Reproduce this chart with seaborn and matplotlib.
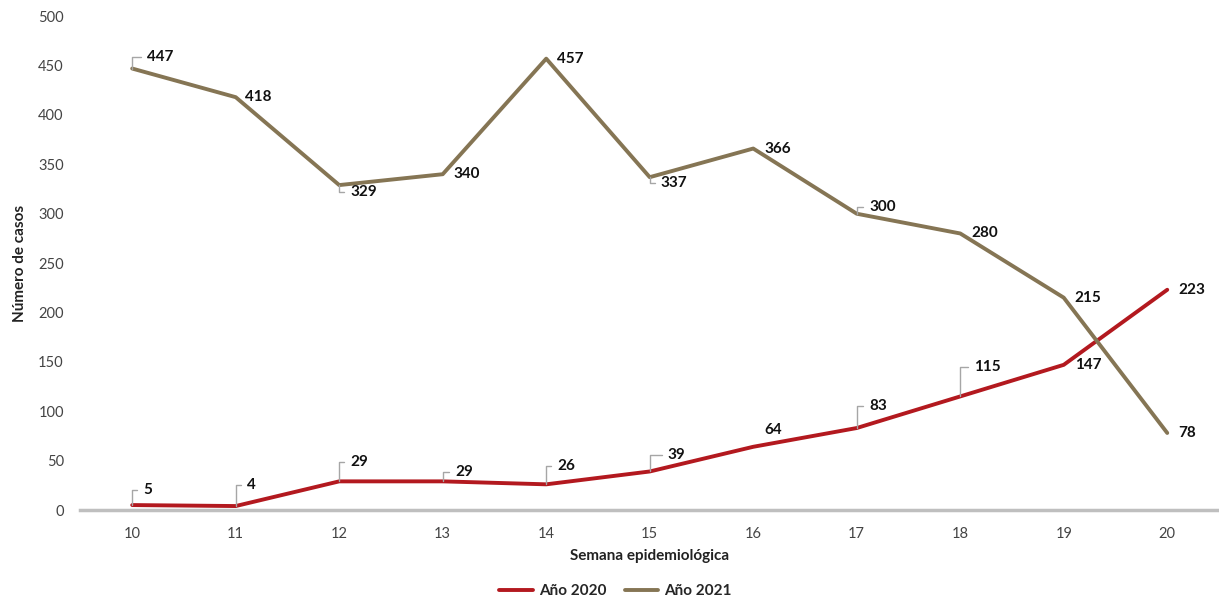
import matplotlib
matplotlib.use("Agg")
import matplotlib.pyplot as plt
import seaborn as sns
import pandas as pd

weeks = [10, 11, 12, 13, 14, 15, 16, 17, 18, 19, 20]
cases_2020 = [5, 4, 29, 29, 26, 39, 64, 83, 115, 147, 223]
cases_2021 = [447, 418, 329, 340, 457, 337, 366, 300, 280, 215, 78]
series_names = ["Año 2020", "Año 2021"]
colors = ["#B3191F", "#857554"]

# label offsets in points (dx, dy) and whether a leader line is drawn
offsets_2020 = [(8, 11), (8, 15), (8, 14), (9, 7), (8, 13), (13, 12), (8, 12), (9, 16), (10, 21), (8, 0), (8, 0)]
leaders_2020 = [True, True, True, True, True, True, False, True, True, False, False]
offsets_2021 = [(11, 8), (7, 0), (8, -5), (8, 0), (8, 0), (8, -4), (8, 0), (9, 5), (8, 0), (8, 0), (8, 0)]
leaders_2021 = [True, False, True, False, False, True, False, True, False, False, False]

sns.set_theme(style="white")
plt.rcParams["font.family"] = ["Lato", "DejaVu Sans"]

df = pd.DataFrame({
    "Semana": weeks * 2,
    "Casos": cases_2020 + cases_2021,
    "Serie": [series_names[0]] * len(weeks) + [series_names[1]] * len(weeks),
})

fig = plt.figure(figsize=(12.19, 6.0), dpi=100)
ax = fig.add_axes([0.066, 0.15, 0.934, 0.823])
sns.lineplot(data=df, x="Semana", y="Casos", hue="Serie", palette=colors,
             linewidth=2.8, ax=ax, legend=True)

ax.set_xlim(9.5, 20.5)
ax.set_ylim(0, 500)
ax.set_xticks(weeks)
ax.set_yticks(range(0, 501, 50))
ax.tick_params(axis="both", length=0, labelsize=10.5, colors="#444444")
ax.tick_params(axis="x", pad=12)
ax.tick_params(axis="y", pad=12)
for s in ["top", "right", "left"]:
    ax.spines[s].set_visible(False)
ax.spines["bottom"].set_color("#BFBFBF")
ax.spines["bottom"].set_linewidth(2.5)

ax.set_xlabel("Semana epidemiológica", fontsize=11, fontweight="bold", labelpad=6, color="#222222")
ax.set_ylabel("Número de casos", fontsize=11, fontweight="bold", labelpad=8, color="#222222")


def label_series(values, offs, leads):
    for x, v, (dx, dy), lead in zip(weeks, values, offs, leads):
        kw = {}
        if lead:
            kw["arrowprops"] = dict(arrowstyle="-", color="#A6A6A6", lw=1.0,
                                    connectionstyle="angle,angleA=0,angleB=90,rad=0",
                                    shrinkA=2, shrinkB=0)
        ax.annotate(str(v), xy=(x, v), xytext=(dx, dy), textcoords="offset points",
                    ha="left", va="center", fontsize=11, fontweight="bold",
                    color="#111111", **kw)


label_series(cases_2020, offsets_2020, leaders_2020)
label_series(cases_2021, offsets_2021, leaders_2021)

handles, labels = ax.get_legend_handles_labels()
ax.legend(handles, labels, loc="center", bbox_to_anchor=(0.47, -0.165),
          ncol=2, frameon=False, prop={"weight": "bold", "size": 11},
          handlelength=2.2, columnspacing=1.2, handletextpad=0.4)

fig.savefig("out.png", dpi=100, facecolor="white")
